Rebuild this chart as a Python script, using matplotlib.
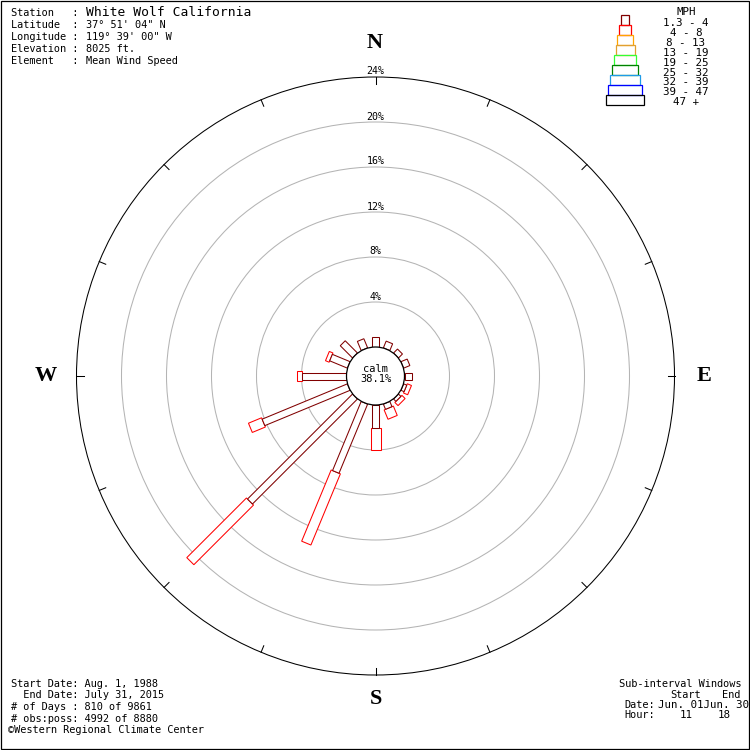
import numpy as np
import matplotlib
matplotlib.use('Agg')
from matplotlib import pyplot as plt
from matplotlib.patches import Polygon, Circle, Rectangle

# ---- data ----
directions = ['N', 'NNE', 'NE', 'ENE', 'E', 'ESE', 'SE', 'SSE',
              'S', 'SSW', 'SW', 'WSW', 'W', 'WNW', 'NW', 'NNW']
# percent of observations per direction and speed class
pct_1p3_4 = [0.9, 0.65, 0.5, 0.6, 0.64, 0.3, 0.3, 0.5,
             2.0, 6.65, 13.2, 8.2, 4.0, 1.7, 1.54, 0.88]
pct_4_8 = [0.0, 0.0, 0.0, 0.0, 0.0, 0.4, 0.4, 0.9,
           2.0, 6.85, 7.5, 1.26, 0.4, 0.35, 0.0, 0.0]
calm_pct = 38.1
ring_pcts = [4, 8, 12, 16, 20, 24]
speed_bins = ['1.3 - 4', '4 - 8', '8 - 13', '13 - 19', '19 - 25',
              '25 - 32', '32 - 39', '39 - 47', '47 +']
bin_colors = ['#800000', '#ff0000', '#ffa500', '#e0a030', '#33ff33',
              '#008000', '#1e9be8', '#0000ff', '#000000']

header_labels = ['Station   :', 'Latitude  :', 'Longitude :', 'Elevation :', 'Element   :']
header_values = ['White Wolf California', "37\u00b0 51' 04\" N", "119\u00b0 39' 00\" W",
                 '8025 ft.', 'Mean Wind Speed']
footer_lines = ['Start Date: Aug. 1, 1988', '  End Date: July 31, 2015',
                '# of Days : 810 of 9861', '# obs:poss: 4992 of 8880']

# ---- geometry (pixels) ----
cx, cy = 375.5, 376.0
calm_r = 29.0
px_per_pct = 11.25


def rad(p):
    return calm_r + p * px_per_pct


def petal(ax, theta_deg, p0, p1, width, color):
    t = np.radians(theta_deg)
    u = np.array([np.sin(t), -np.cos(t)])
    v = np.array([np.cos(t), np.sin(t)])
    c = np.array([cx, cy])
    r0, r1 = rad(p0), rad(p1)
    pts = [c + u * r0 - v * width / 2, c + u * r1 - v * width / 2,
           c + u * r1 + v * width / 2, c + u * r0 + v * width / 2]
    ax.add_patch(Polygon(pts, closed=True, fc='white', ec=color, lw=0.75, zorder=3))


mono = 'DejaVu Sans Mono'
fig = plt.figure(figsize=(7.5, 7.5), dpi=100)
ax = fig.add_axes([0, 0, 1, 1])
ax.set_xlim(0, 750)
ax.set_ylim(750, 0)
ax.axis('off')

# frame
ax.add_patch(Rectangle((0.5, 0.5), 748, 748, fill=False, ec='black', lw=0.9))

# rings
for p in ring_pcts:
    col = 'black' if p == ring_pcts[-1] else '#b4b4b4'
    ax.add_patch(Circle((cx, cy), rad(p), fill=False, ec=col, lw=0.75, zorder=1))
    ax.text(cx, cy - rad(p) - 2.5, f'{p}%', ha='center', va='baseline',
            family=mono, fontsize=7.2, zorder=5)

# compass ticks
R = rad(ring_pcts[-1])
for k in range(16):
    t = np.radians(k * 22.5)
    ax.plot([cx + R * np.sin(t), cx + (R - 7) * np.sin(t)],
            [cy - R * np.cos(t), cy - (R - 7) * np.cos(t)], color='black', lw=0.75)

for lab, (x, y) in zip(['N', 'E', 'S', 'W'], [(375, 43), (704, 376), (376, 699), (46, 376)]):
    ax.text(x, y, lab, ha='center', va='center', family='Liberation Serif',
            fontsize=16, fontweight='bold')

# petals
for i, d in enumerate(directions):
    th = i * 22.5
    a, b = pct_1p3_4[i], pct_4_8[i]
    if b > 0:
        petal(ax, th, a, a + b, 10, bin_colors[1])
    if a > 0:
        petal(ax, th, 0, a, 7, bin_colors[0])

ax.add_patch(Circle((cx, cy), calm_r, fc='white', ec='black', lw=0.9, zorder=4))
ax.text(cx, 371.5, 'calm', ha='center', va='baseline', family=mono, fontsize=7.5, zorder=5)
ax.text(cx, 382.5, f'{calm_pct}%', ha='center', va='baseline', family=mono, fontsize=7.5, zorder=5)

# header
for i, (lab, val) in enumerate(zip(header_labels, header_values)):
    yb = 16.5 + 12 * i
    ax.text(11, yb, lab, ha='left', va='baseline', family=mono, fontsize=7.4)
    ax.text(86, yb, val, ha='left', va='baseline', family=mono,
            fontsize=9.4 if i == 0 else 7.4)

# legend
ax.text(686, 15, 'MPH', ha='center', va='baseline', family=mono, fontsize=7.8)
for i, (lab, col) in enumerate(zip(speed_bins, bin_colors)):
    half = 3.8 + 1.9 * i
    y0 = 15 + 10 * i
    ax.add_patch(Rectangle((625 - half, y0), 2 * half, 10, fill=False, ec=col, lw=0.9))
    ax.text(686, 26.5 + 9.8 * i, lab, ha='center', va='baseline', family=mono, fontsize=7.8)

# footer left
for i, line in enumerate(footer_lines):
    ax.text(11, 687 + 11.5 * i, line, ha='left', va='baseline', family=mono, fontsize=7.4)
ax.text(8, 733, '\u00a9Western Regional Climate Center', ha='left', va='baseline',
        family=mono, fontsize=7.4)

# footer right
ax.text(619, 687, 'Sub-interval Windows', ha='left', va='baseline', family=mono, fontsize=7.4)
ax.text(670, 698, 'Start', ha='left', va='baseline', family=mono, fontsize=7.4)
ax.text(722, 698, 'End', ha='left', va='baseline', family=mono, fontsize=7.4)
ax.text(624, 708, 'Date:', ha='left', va='baseline', family=mono, fontsize=7.4)
ax.text(658, 708, 'Jun. 01Jun. 30', ha='left', va='baseline', family=mono, fontsize=7.8)
ax.text(624, 717.5, 'Hour:', ha='left', va='baseline', family=mono, fontsize=7.4)
ax.text(680, 717.5, '11', ha='left', va='baseline', family=mono, fontsize=7.8)
ax.text(718, 717.5, '18', ha='left', va='baseline', family=mono, fontsize=7.8)

fig.savefig('out.png', dpi=100)
